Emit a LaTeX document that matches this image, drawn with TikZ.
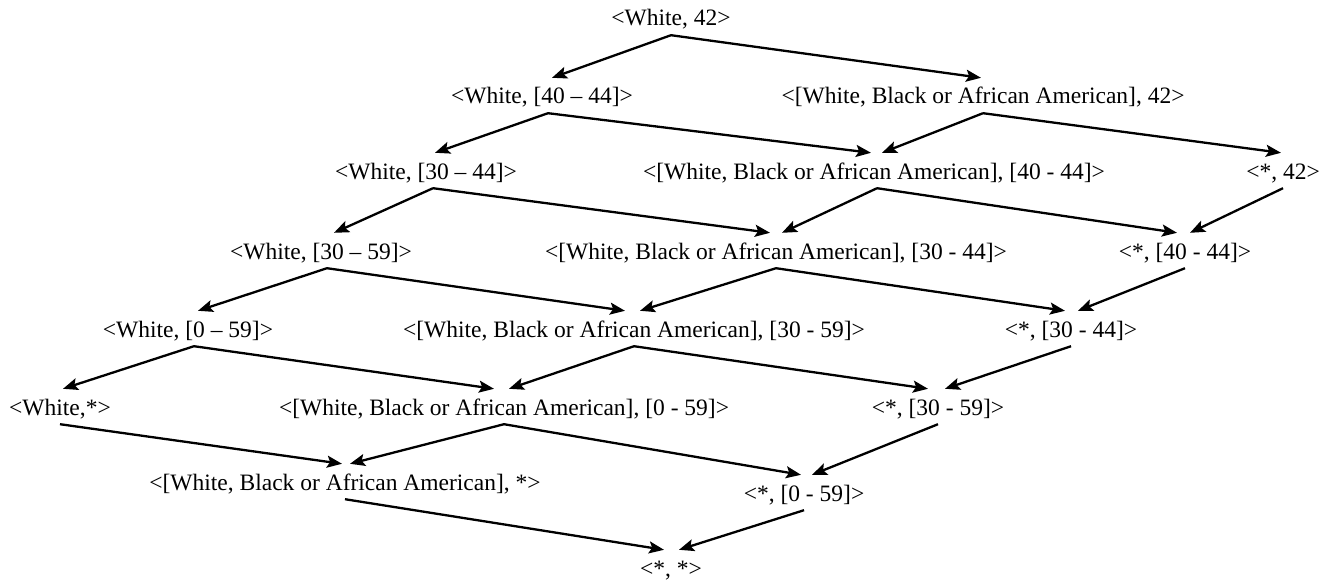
\documentclass[tikz,border=0pt]{standalone}
\usepackage{fontspec}
\setmainfont{Liberation Serif}
\usetikzlibrary{arrows.meta}
\begin{document}
\begin{tikzpicture}[x=1pt,y=-1pt,
  lbl/.style={inner sep=0pt, text height=26pt, text depth=9pt, anchor=base,
              font=\fontsize{23.5}{28}\selectfont},
  arr/.style={line width=2.3pt, -{Stealth[length=15pt,width=12pt,inset=3pt]}}]
\useasboundingbox (0,0) rectangle (1324,580);
% row 0
\node[lbl] (W42)   at (671,26)  {<White, 42>};
% row 1
\node[lbl] (W4044) at (542,104) {<White, [40 \textendash{} 44]>};
\node[lbl] (B42)   at (983,104) {<[White, Black or African American], 42>};
% row 2
\node[lbl] (W3044) at (426,179) {<White, [30 \textendash{} 44]>};
\node[lbl] (B4044) at (874,179) {<[White, Black or African American], [40 - 44]>};
\node[lbl] (S42)   at (1283,179) {<*, 42>};
% row 3
\node[lbl] (W3059) at (321,259) {<White, [30 \textendash{} 59]>};
\node[lbl] (B3044) at (776,259) {<[White, Black or African American], [30 - 44]>};
\node[lbl] (S4044) at (1185,259) {<*, [40 - 44]>};
% row 4
\node[lbl] (W059)  at (188,337) {<White, [0 \textendash{} 59]>};
\node[lbl] (B3059) at (634,337) {<[White, Black or African American], [30 - 59]>};
\node[lbl] (S3044) at (1071,337) {<*, [30 - 44]>};
% row 5
\node[lbl] (WS)    at (60,415)  {<White,*>};
\node[lbl] (B059)  at (504,415) {<[White, Black or African American], [0 - 59]>};
\node[lbl] (S3059) at (938,415) {<*, [30 - 59]>};
% row 6
\node[lbl] (BS)    at (345,490) {<[White, Black or African American], *>};
\node[lbl] (S059)  at (804,501) {<*, [0 - 59]>};
% row 7
\node[lbl] (SS)    at (671,576) {<*, *>};

% edges
\draw[arr] (W42.south) -- ([xshift=10pt]W4044.north);
\draw[arr] (W42.south) -- ([xshift=-2pt]B42.north);
\draw[arr] ([xshift=6pt]W4044.south) -- ([xshift=9pt]W3044.north);
\draw[arr] ([xshift=6pt]W4044.south) -- ([xshift=-3pt]B4044.north);
\draw[arr] (B42.south) -- ([xshift=8pt]B4044.north);
\draw[arr] (B42.south) -- ([xshift=-2pt]S42.north);
\draw[arr] ([xshift=7pt]W3044.south) -- ([xshift=13pt]W3059.north);
\draw[arr] ([xshift=7pt]W3044.south) -- ([xshift=-6pt]B3044.north);
\draw[arr] ([xshift=3pt]B4044.south) -- ([xshift=6pt]B3044.north);
\draw[arr] ([xshift=3pt]B4044.south) -- ([xshift=-8pt]S4044.north);
\draw[arr] (S42.south) -- ([xshift=5pt]S4044.north);
\draw[arr] ([xshift=6pt]W3059.south) -- ([xshift=10pt]W059.north);
\draw[arr] ([xshift=6pt]W3059.south) -- ([xshift=-9pt]B3059.north);
\draw[arr] (B3044.south) -- ([xshift=6pt]B3059.north);
\draw[arr] (B3044.south) -- ([xshift=-6pt]S3044.north);
\draw[arr] (S4044.south) -- ([xshift=7pt]S3044.north);
\draw[arr] ([xshift=6pt]W059.south) -- ([xshift=3pt]WS.north);
\draw[arr] ([xshift=6pt]W059.south) -- ([xshift=-10pt]B059.north);
\draw[arr] (B3059.south) -- ([xshift=5pt]B059.north);
\draw[arr] (B3059.south) -- ([xshift=-10pt]S3059.north);
\draw[arr] (S3044.south) -- ([xshift=7pt]S3059.north);
\draw[arr] (WS.south) -- ([xshift=-3pt]BS.north);
\draw[arr] (B059.south) -- ([xshift=5pt]BS.north);
\draw[arr] (B059.south) -- ([xshift=-3pt]S059.north);
\draw[arr] (S3059.south) -- ([xshift=8pt]S059.north);
\draw[arr] (BS.south) -- ([xshift=-7pt]SS.north);
\draw[arr] (S059.south) -- ([xshift=8pt]SS.north);
\end{tikzpicture}
\end{document}
